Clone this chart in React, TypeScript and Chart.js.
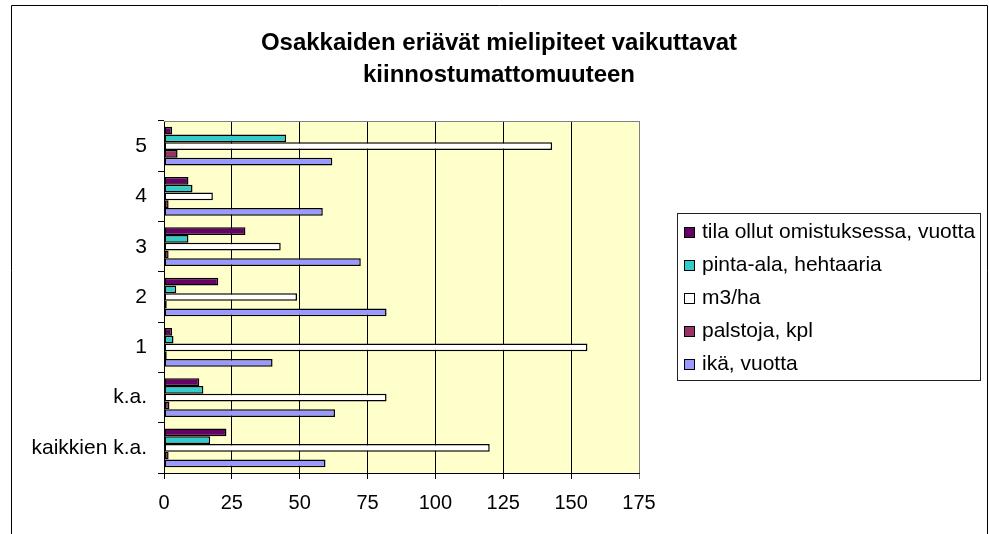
import React, { useEffect, useRef } from 'react';
import { Chart, registerables } from 'chart.js';

Chart.register(...registerables);

const categories = ['5', '4', '3', '2', '1', 'k.a.', 'kaikkien k.a.'];
const seriesNames = [
  'tila ollut omistuksessa, vuotta',
  'pinta-ala, hehtaaria',
  'm3/ha',
  'palstoja, kpl',
  'ikä, vuotta',
];
const tila = [3, 9, 30, 20, 3, 13, 23];
const pintaAla = [45, 10.5, 9, 4.5, 3.5, 14.5, 17];
const m3ha = [143, 18, 43, 49, 156, 82, 120];
const palstoja = [5, 1.7, 1.7, 1, 1, 2, 1.7];
const ika = [62, 58.5, 72.5, 82, 40, 63, 59.5];
const seriesColors = ['#660066', '#33CCCC', '#FFFFFF', '#993366', '#9999FF'];
const xMin = 0;
const xMax = 175;
const xStep = 25;
const titleLines = ['Osakkaiden eriävät mielipiteet vaikuttavat', 'kiinnostumattomuuteen'];

const FONT = '"Liberation Sans", Arial, sans-serif';

const decor = {
  id: 'decor',
  beforeDraw(chart: any) {
    const { ctx, chartArea: a } = chart;
    ctx.save();
    ctx.fillStyle = '#ffffff';
    ctx.fillRect(0, 0, chart.width, chart.height);
    ctx.fillStyle = '#FFFFCC';
    ctx.fillRect(a.left, a.top, a.right - a.left, a.bottom - a.top);
    ctx.strokeStyle = '#000';
    ctx.lineWidth = 1;
    ctx.beginPath();
    ctx.moveTo(11.5, chart.height + 2);
    ctx.lineTo(11.5, 5.5);
    ctx.lineTo(987.5, 5.5);
    ctx.lineTo(987.5, chart.height + 2);
    ctx.stroke();
    ctx.restore();
  },
  afterDraw(chart: any) {
    const { ctx, chartArea: a } = chart;
    ctx.save();
    // plot area top border
    ctx.strokeStyle = '#808080';
    ctx.lineWidth = 1;
    ctx.beginPath();
    ctx.moveTo(a.left, Math.round(a.top) + 0.5);
    ctx.lineTo(a.right + 1, Math.round(a.top) + 0.5);
    ctx.stroke();
    // title
    ctx.fillStyle = '#000';
    ctx.font = 'bold 24px ' + FONT;
    ctx.textAlign = 'center';
    ctx.textBaseline = 'middle';
    ctx.fillText(titleLines[0], 499, 43);
    ctx.fillText(titleLines[1], 499, 75);
    // legend
    ctx.strokeStyle = '#222';
    ctx.lineWidth = 1;
    ctx.strokeRect(677.5, 213.5, 303, 167);
    ctx.font = '21px ' + FONT;
    ctx.textAlign = 'left';
    ctx.textBaseline = 'middle';
    chart.data.datasets.forEach((ds: any, i: number) => {
      const y = 232 + i * 33.1;
      ctx.fillStyle = ds.backgroundColor;
      ctx.fillRect(684, Math.round(y - 5.5), 11, 11);
      ctx.strokeStyle = '#000';
      ctx.strokeRect(684.5, Math.round(y - 5.5) + 0.5, 10, 10);
      ctx.fillStyle = '#000';
      ctx.fillText(ds.label, 702, y);
    });
    ctx.restore();
  },
};

export default function App() {
  const ref = useRef<HTMLCanvasElement | null>(null);
  useEffect(() => {
    if (!ref.current) return;
    const values = [tila, pintaAla, m3ha, palstoja, ika];
    const chart = new Chart(ref.current, {
      type: 'bar',
      data: {
        labels: categories,
        datasets: values.map((v, i) => ({
          label: seriesNames[i],
          data: v,
          backgroundColor: seriesColors[i],
          borderColor: '#000000',
          borderWidth: 1.5,
          borderSkipped: false,
          categoryPercentage: 0.77,
          barPercentage: 1.0,
        })),
      },
      options: {
        indexAxis: 'y',
        animation: false,
        responsive: false,
        devicePixelRatio: 1,
        layout: { padding: { top: 121, left: 0, right: 350, bottom: 0 } },
        plugins: {
          legend: { display: false },
          title: { display: false },
          tooltip: { enabled: false },
        },
        scales: {
          x: {
            min: xMin,
            max: xMax,
            ticks: {
              stepSize: xStep,
              color: '#000',
              font: { family: FONT, size: 20 },
              padding: 12,
            },
            grid: {
              color: (c: any) => (c.tick && c.tick.value === xMax ? '#808080' : '#000000'),
              lineWidth: 1,
              tickLength: 6,
              drawTicks: true,
            },
            border: { display: true, color: '#000', width: 1 },
            afterFit: (s: any) => {
              s.height = 61;
            },
          },
          y: {
            ticks: {
              color: '#000',
              font: { family: FONT, size: 21 },
              padding: 11,
            },
            grid: {
              drawOnChartArea: false,
              drawTicks: true,
              tickLength: 6,
              color: '#000',
              offset: true,
            },
            border: { display: true, color: '#000', width: 1 },
            afterFit: (s: any) => {
              s.width = 164;
            },
          },
        },
      },
      plugins: [decor],
    });
    return () => chart.destroy();
  }, []);
  return (
    <div style={{ position: 'absolute', left: 0, top: 0, width: 989, height: 534 }}>
      <canvas ref={ref} width={989} height={534} style={{ display: 'block', width: 989, height: 534 }} />
    </div>
  );
}
